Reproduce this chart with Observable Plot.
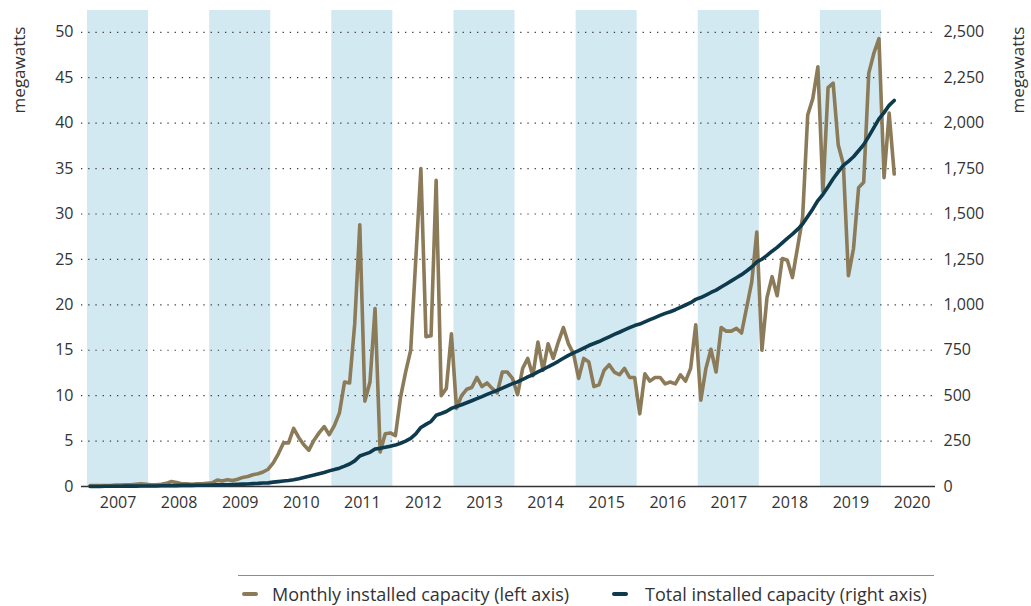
<!DOCTYPE html>
<html><head><meta charset="utf-8">
<script src="https://cdn.jsdelivr.net/npm/d3@7"></script>
<script src="https://cdn.jsdelivr.net/npm/@observablehq/plot@0.6"></script>
<style>
body{margin:0;background:#fff;font-family:"Open Sans",sans-serif;}
#wrap{position:relative;width:1031px;height:606px;overflow:hidden;}
#legend{position:absolute;left:238px;top:575px;width:696px;height:30px;border-top:1.5px solid #8c8c8c;}
.item{position:absolute;top:7px;font-size:18px;line-height:22px;color:#333;white-space:nowrap;}
.sw{position:absolute;top:16px;width:16px;height:4px;border-radius:2px;}
.atitle{position:absolute;font-size:17px;color:#333;white-space:nowrap;transform:translate(-50%,-50%) rotate(-90deg);line-height:20px;}
</style></head>
<body><div id="wrap"><div id="chart"></div><div id="legend"></div></div>
<script>
// ---- data ----
const startYear = 2007; // first month: January 2007, monthly to March 2020
const monthly = [
  0.1,0.1,0.1,0.1,0.1,0.15,0.15,0.2,0.2,0.25,0.3,0.25,
  0.2,0.2,0.25,0.35,0.55,0.45,0.3,0.3,0.25,0.3,0.3,0.35,
  0.4,0.7,0.6,0.75,0.65,0.8,1.0,1.1,1.3,1.4,1.6,1.9,
  2.6,3.6,4.8,4.8,6.4,5.4,4.6,4.0,5.1,5.9,6.6,5.7,
  6.7,8.1,11.5,11.4,17.9,28.8,9.4,11.5,19.6,3.8,5.8,5.9,
  5.6,9.8,12.6,15.0,25.0,35.0,16.5,16.6,33.7,10.0,10.8,16.8,
  8.6,10.0,10.7,10.9,12.0,11.0,11.4,10.8,10.3,12.6,12.6,11.9,
  10.1,13.0,14.1,12.2,15.9,12.8,15.7,14.1,15.9,17.5,15.7,14.6,
  11.9,14.1,13.7,11.0,11.2,12.8,13.4,12.6,12.3,13.0,12.0,12.0,
  8.0,12.4,11.6,12.0,12.0,11.3,11.5,11.3,12.3,11.6,13.0,17.8,
  9.5,13.0,15.1,12.6,17.5,17.1,17.1,17.4,16.9,19.7,22.5,28.0,
  15.0,20.8,23.1,21.0,25.1,24.9,23.0,26.3,29.6,40.9,42.7,46.2,
  32.5,43.9,44.4,37.6,35.5,23.2,26.2,32.9,33.5,45.5,47.7,49.3,
  34.0,41.1,34.4
];
const total = [
  0,0,0,1,1,1,1,2,2,2,3,3,
  3,3,4,4,5,5,6,6,6,7,7,7,
  8,9,9,10,11,12,13,14,16,17,19,20,
  24,27,30,33,37,43,50,57,63,70,77,86,
  93,101,112,124,141,168,178,188,206,210,216,222,
  228,238,250,265,290,325,342,358,392,402,413,430,
  440,450,461,472,484,495,507,518,529,541,554,566,
  576,589,603,615,631,644,659,673,689,706,722,736,
  748,762,776,787,798,811,824,837,849,862,874,886,
  894,906,918,930,942,953,962,973,986,999,1012,1030,
  1040,1053,1068,1081,1098,1115,1132,1149,1166,1186,1208,1236,
  1251,1272,1295,1316,1341,1366,1389,1415,1445,1486,1528,1574,
  1608,1650,1694,1732,1767,1790,1815,1848,1882,1927,1975,2024,
  2058,2098,2125
];
const leftTicks = [0,5,10,15,20,25,30,35,40,45,50];
const rightTicks = [0,250,500,750,1000,1250,1500,1750,2000,2250,2500];
const yearLabels = [2007,2008,2009,2010,2011,2012,2013,2014,2015,2016,2017,2018,2019,2020];
const bandYears = [2007,2009,2011,2013,2015,2017,2019];
const seriesNames = ["Monthly installed capacity (left axis)", "Total installed capacity (right axis)"];
const seriesColors = ["#8c7b59", "#0e3a4d"];
const axisTitle = "megawatts";

// ---- build ----
const ratio = rightTicks[rightTicks.length-1] / leftTicks[leftTicks.length-1];
const monthlyRows = monthly.map((v,i)=>({x: startYear + (i+0.5)/12, y: v}));
const totalRows = total.map((v,i)=>({x: startYear + (i+0.5)/12, y: v/ratio}));
const fmt = d3.format(",");

const chart = Plot.plot({
  width: 1031, height: 540,
  marginLeft: 81, marginRight: 96, marginTop: 10, marginBottom: 54,
  style: {fontFamily: '"Open Sans", sans-serif', fontSize: "16px", color: "#333", background: "#fff"},
  x: {type: "linear", domain: [2006.902, 2020.884]},
  y: {domain: [0, 52.4]},
  marks: [
    Plot.rect(bandYears, {x1: d=>d, x2: d=>d+1, fill: "#d3e9f2"}),
    Plot.ruleY(leftTicks.slice(1), {stroke: "#3a3a3a", strokeWidth: 1.2, strokeDasharray: "1.3,5.9"}),
    Plot.ruleY([0], {stroke: "#333", strokeWidth: 1.6}),
    Plot.axisY({anchor: "left", ticks: leftTicks, tickSize: 0, tickPadding: 8, label: null, tickFormat: d=>String(d)}),
    Plot.axisY({anchor: "right", ticks: leftTicks, tickSize: 0, tickPadding: 8, label: null,
      tickFormat: d=>fmt(rightTicks[leftTicks.indexOf(d)])}),
    Plot.axisX({ticks: yearLabels.map(y=>y+0.5), tickSize: 0, tickPadding: 10, label: null,
      tickFormat: d=>String(yearLabels[Math.round(d-0.5) - yearLabels[0]])}),
    Plot.line(monthlyRows, {x: "x", y: "y", stroke: seriesColors[0], strokeWidth: 3.6}),
    Plot.line(totalRows, {x: "x", y: "y", stroke: seriesColors[1], strokeWidth: 3.6})
  ]
});
document.getElementById("chart").appendChild(chart);

const wrap = document.getElementById("wrap");
[[19,70],[1018,70]].forEach(([cx,cy])=>{
  const d = document.createElement("div");
  d.className = "atitle"; d.textContent = axisTitle;
  d.style.left = cx+"px"; d.style.top = cy+"px";
  wrap.appendChild(d);
});

const legend = document.getElementById("legend");
const swX = [4, 374], txtX = [34, 407];
seriesNames.forEach((name,i)=>{
  const sw = document.createElement("div");
  sw.className = "sw"; sw.style.left = swX[i]+"px"; sw.style.background = seriesColors[i];
  legend.appendChild(sw);
  const t = document.createElement("div");
  t.className = "item"; t.style.left = txtX[i]+"px"; t.textContent = name;
  legend.appendChild(t);
});
</script></body></html>
